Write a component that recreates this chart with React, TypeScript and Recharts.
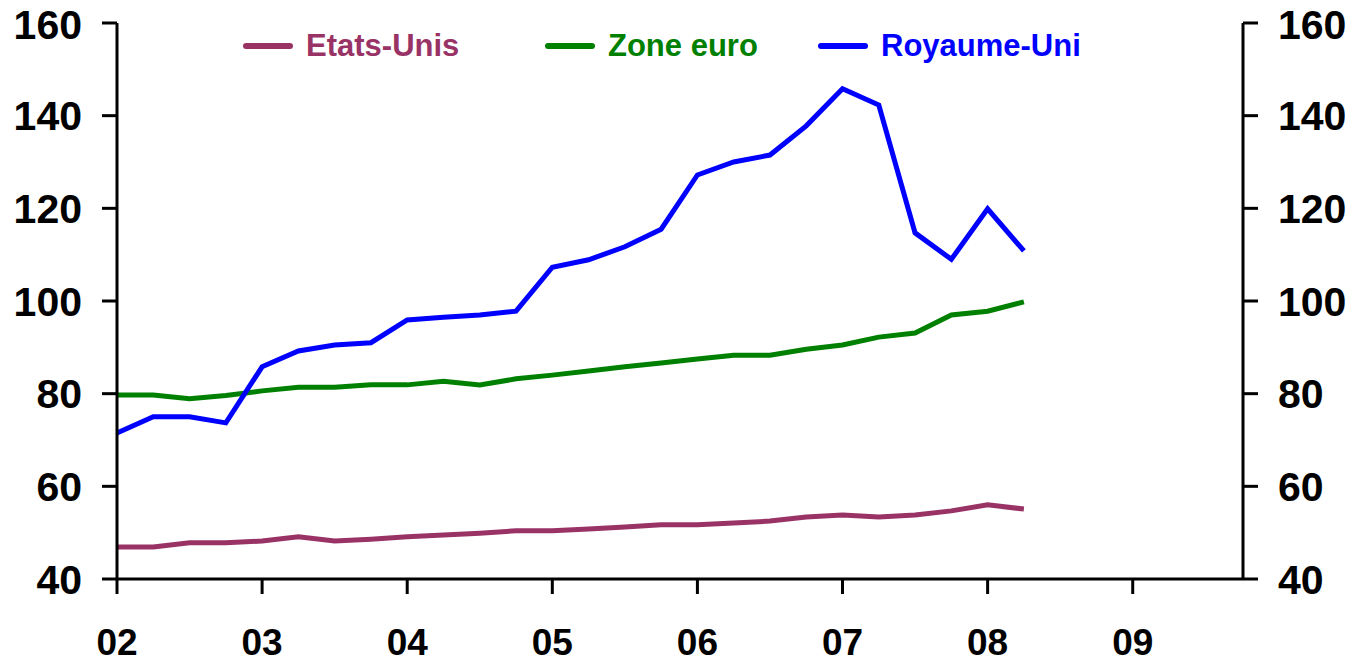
import { LineChart, Line, XAxis, YAxis } from "recharts";

// quarterly points, 2002 Q1 .. 2008 Q2
const periods = [
  2002, 2002.25, 2002.5, 2002.75, 2003, 2003.25, 2003.5, 2003.75,
  2004, 2004.25, 2004.5, 2004.75, 2005, 2005.25, 2005.5, 2005.75,
  2006, 2006.25, 2006.5, 2006.75, 2007, 2007.25, 2007.5, 2007.75,
  2008, 2008.25,
];

const etatsUnis = [
  46.9, 46.9, 47.8, 47.8, 48.2, 49.1, 48.2, 48.6, 49.1, 49.5, 49.9, 50.4, 50.4,
  50.8, 51.2, 51.7, 51.7, 52.1, 52.5, 53.4, 53.8, 53.4, 53.8, 54.7, 56.0, 55.1,
];

const zoneEuro = [
  79.7, 79.7, 78.9, 79.6, 80.6, 81.4, 81.4, 81.9, 81.9, 82.7, 81.9, 83.2, 84.0,
  84.9, 85.8, 86.6, 87.5, 88.3, 88.3, 89.6, 90.5, 92.2, 93.1, 97.0, 97.8, 99.8,
];

const royaumeUni = [
  71.5, 75.0, 75.0, 73.7, 85.8, 89.2, 90.5, 91.0, 95.9, 96.5, 97.0, 97.8, 107.3,
  108.9, 111.7, 115.5, 127.2, 130.0, 131.5, 137.8, 145.8, 142.3, 114.7, 109.0,
  119.9, 110.8,
];

const xTicks = [2002, 2003, 2004, 2005, 2006, 2007, 2008, 2009];
const yTicks = [40, 60, 80, 100, 120, 140, 160];

const SERIES = [
  { key: "us", name: "Etats-Unis", color: "#993366" },
  { key: "ez", name: "Zone euro", color: "#008000" },
  { key: "uk", name: "Royaume-Uni", color: "#0000FF" },
];

const LEGEND_LEFT = [243, 545, 818];

const data = periods.map((t, i) => ({
  t,
  us: etatsUnis[i],
  ez: zoneEuro[i],
  uk: royaumeUni[i],
}));

const FONT = "'Liberation Sans', Arial, sans-serif";
const axisStroke = { stroke: "#000", strokeWidth: 3 };
const yTickStyle = { fill: "#000", fontSize: 41, fontWeight: "bold", fontFamily: FONT };

function LegendBox() {
  return (
    <div style={{ position: "absolute", left: 0, top: 28, width: 1358, height: 40 }}>
      {SERIES.map((s, i) => (
        <div
          key={s.key}
          style={{
            position: "absolute",
            left: LEGEND_LEFT[i],
            top: 0,
            display: "flex",
            alignItems: "center",
            fontFamily: FONT,
            fontWeight: "bold",
            fontSize: 31,
            color: s.color,
            whiteSpace: "nowrap",
          }}
        >
          <span
            style={{
              display: "inline-block",
              width: 50,
              height: 6,
              borderRadius: 3,
              background: s.color,
              marginRight: 13,
            }}
          />
          {s.name}
        </div>
      ))}
    </div>
  );
}

export default function App() {
  return (
    <div
      style={{
        position: "absolute",
        left: 0,
        top: 0,
        width: 1358,
        height: 666,
        background: "#fff",
      }}
    >
      <LineChart
        width={1358}
        height={666}
        data={data}
        margin={{ top: 23, right: 0, bottom: 0, left: 0 }}
      >
        <XAxis
          dataKey="t"
          type="number"
          domain={[2002, 2009.76]}
          ticks={xTicks}
          allowDataOverflow
          height={87}
          tickFormatter={(v: number) => String(v).slice(2)}
          axisLine={axisStroke}
          tickLine={axisStroke}
          tickSize={15}
          tickMargin={35}
          tick={{ fill: "#000", fontSize: 37, fontWeight: "bold", fontFamily: FONT }}
        />
        <YAxis
          yAxisId="left"
          domain={[40, 160]}
          ticks={yTicks}
          width={117}
          axisLine={axisStroke}
          tickLine={axisStroke}
          tickSize={15}
          tickMargin={20}
          tick={yTickStyle}
        />
        <YAxis
          yAxisId="right"
          orientation="right"
          domain={[40, 160]}
          ticks={yTicks}
          width={115}
          axisLine={axisStroke}
          tickLine={axisStroke}
          tickSize={15}
          tickMargin={20}
          tick={yTickStyle}
        />
        {SERIES.map((s) => (
          <Line
            key={s.key}
            yAxisId="left"
            type="linear"
            dataKey={s.key}
            name={s.name}
            stroke={s.color}
            strokeWidth={5}
            dot={false}
            isAnimationActive={false}
          />
        ))}
        {/* invisible copy so the right-hand axis gets its scale */}
        <Line
          yAxisId="right"
          dataKey="ez"
          stroke="none"
          dot={false}
          activeDot={false}
          legendType="none"
          isAnimationActive={false}
        />
      </LineChart>
      <LegendBox />
    </div>
  );
}
